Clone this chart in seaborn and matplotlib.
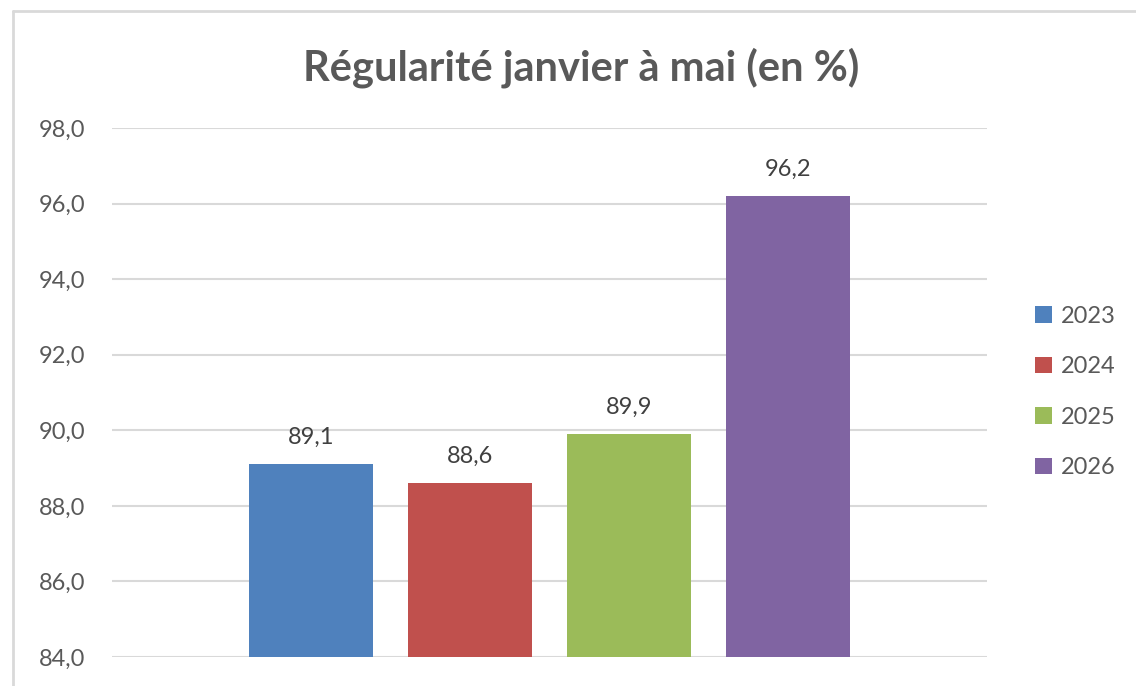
import matplotlib
matplotlib.use("Agg")
import matplotlib.pyplot as plt
import matplotlib.ticker as mticker
from matplotlib.lines import Line2D
import pandas as pd
import seaborn as sns

# Data
years = ["2023", "2024", "2025", "2026"]
values = [89.1, 88.6, 89.9, 96.2]
colors = ["#4F81BD", "#C0504D", "#9BBB59", "#8064A2"]
title = "Régularité janvier à mai (en %)"

df = pd.DataFrame({"cat": ["janvier-mai"] * len(years), "year": years, "value": values})

sns.set_theme(style="white")
plt.rcParams["font.family"] = ["Lato", "DejaVu Sans"]

fig = plt.figure(figsize=(11.36, 6.86), dpi=100)
ax = fig.add_axes([112 / 1136, 1 - 657 / 686, 875 / 1136, (657 - 128) / 686])

sns.barplot(data=df, x="cat", y="value", hue="year", palette=colors, saturation=1,
            width=0.8, gap=0.214, linewidth=0, ax=ax, legend=True)

ax.set_ylim(84, 98)
ax.set_xlim(-0.5503, 0.5503)
ax.yaxis.set_major_locator(mticker.MultipleLocator(2))
ax.yaxis.set_major_formatter(mticker.FuncFormatter(lambda v, p: f"{v:.1f}".replace(".", ",")))
ax.grid(axis="y", color="#d9d9d9", linewidth=1.5)
ax.set_axisbelow(True)
for s in ax.spines.values():
    s.set_visible(False)
ax.set_xticks([])
ax.set_xlabel("")
ax.set_ylabel("")
ax.tick_params(axis="y", length=0, pad=19, labelsize=17, labelcolor="#595959")

for cont in ax.containers:
    ax.bar_label(cont, labels=[f"{v:.1f}".replace(".", ",") for v in cont.datavalues],
                 padding=12, fontsize=17, color="#404040")

ax.legend(loc="center left", bbox_to_anchor=(1014 / 1136, 1 - 392 / 686),
          bbox_transform=fig.transFigure, frameon=False, fontsize=17,
          handlelength=0.7, handleheight=0.7, handletextpad=0.4, labelspacing=1.25,
          labelcolor="#595959")

fig.text(581 / 1136, 1 - 68 / 686, title, ha="center", va="center",
         fontsize=30, fontweight="bold", color="#595959")

# outer chart border (left and top visible)
fig.add_artist(Line2D([13 / 1136, 13 / 1136], [0, 1 - 11 / 686], transform=fig.transFigure,
                      color="#d9d9d9", linewidth=2))
fig.add_artist(Line2D([13 / 1136, 1], [1 - 11 / 686, 1 - 11 / 686], transform=fig.transFigure,
                      color="#d9d9d9", linewidth=2))

fig.savefig("out.png", dpi=100)
